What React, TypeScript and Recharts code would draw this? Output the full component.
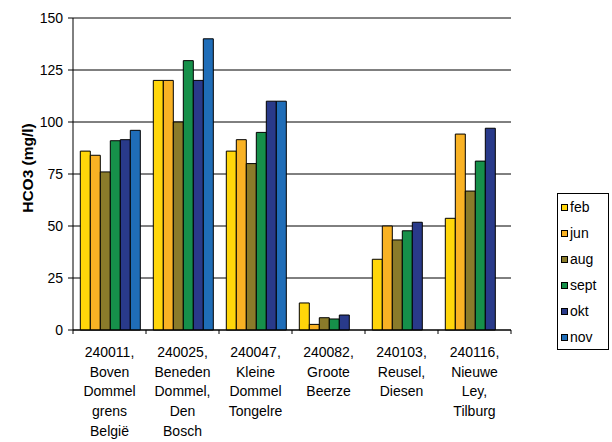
import React from 'react';
import { BarChart, Bar, XAxis, YAxis, CartesianGrid, ReferenceLine } from 'recharts';

const STATIONS = [
    '240011,\nBoven\nDommel\ngrens\nBelgië',
    '240025,\nBeneden\nDommel,\nDen\nBosch',
    '240047,\nKleine\nDommel\nTongelre',
    '240082,\nGroote\nBeerze',
    '240103,\nReusel,\nDiesen',
    '240116,\nNieuwe\nLey,\nTilburg',
];

const FEB = [86, 120, 86, 13, 34, 53.7];
const JUN = [84, 120, 91.5, 2.7, 50, 94.2];
const AUG = [76, 100, 80, 5.9, 43.3, 66.8];
const SEPT = [91, 129.5, 95, 5.3, 47.7, 81.2];
const OKT = [91.5, 120, 110, 7.2, 51.8, 97];
const NOV = [96, 140, 110, null, null, null];

const Y_TICKS = [0, 25, 50, 75, 100, 125, 150];

const SERIES = [
    { key: 'feb', values: FEB, color: '#FFD60A' },
    { key: 'jun', values: JUN, color: '#F9B224' },
    { key: 'aug', values: AUG, color: '#8A7B2A' },
    { key: 'sept', values: SEPT, color: '#16904A' },
    { key: 'okt', values: OKT, color: '#293A8A' },
    { key: 'nov', values: NOV, color: '#1F6DB8' },
];

const data = STATIONS.map((name, i) => {
    const row: any = { name };
    SERIES.forEach((s) => { row[s.key] = s.values[i]; });
    return row;
});

const W = 612;
const H = 442;
const PLOT_LEFT = 73;
const PLOT_RIGHT = 511;
const PLOT_TOP = 18;
const PLOT_BOTTOM = 330;
const BAND = (PLOT_RIGHT - PLOT_LEFT) / STATIONS.length;
const FONT = 'Arial, "Liberation Sans", sans-serif';

// category label with the tick marks at the band edges
const StationTick = (props: any) => {
    const { x, payload, index } = props;
    const lines = String(payload.value).split('\n');
    const axisY = PLOT_BOTTOM;
    return (
        <g>
            <line x1={x - BAND / 2} x2={x - BAND / 2} y1={axisY} y2={axisY + 4} stroke="#000" />
            {index === STATIONS.length - 1 && (
                <line x1={x + BAND / 2} x2={x + BAND / 2} y1={axisY} y2={axisY + 4} stroke="#000" />
            )}
            <text x={x} y={axisY + 27} textAnchor="middle" fontFamily={FONT} fontSize={14} fill="#000">
                {lines.map((l, i) => (
                    <tspan key={i} x={x} dy={i === 0 ? 0 : 19.7}>{l}</tspan>
                ))}
            </text>
        </g>
    );
};

const LegendBox = () => (
    <div style={{ position: 'absolute', left: 557, top: 193, width: 52, height: 157, border: '1px solid #000', background: '#fff', boxSizing: 'border-box' }}>
        {SERIES.map((s, i) => (
            <div key={s.key} style={{ position: 'absolute', left: 3, top: 5 + i * 26, display: 'flex', alignItems: 'center', fontFamily: FONT, fontSize: 14, color: '#000', lineHeight: '16px' }}>
                <span style={{ display: 'inline-block', width: 5, height: 5, background: s.color, border: '1px solid #000', marginRight: 2 }} />
                {s.key}
            </div>
        ))}
    </div>
);

export default function App() {
    return (
        <div style={{ position: 'absolute', left: 0, top: 0, width: W, height: H, background: '#fff' }}>
            <BarChart
                width={W}
                height={H}
                data={data}
                margin={{ top: PLOT_TOP, right: W - PLOT_RIGHT, left: 0, bottom: 0 }}
                barCategoryGap="10%"
                barGap={0}
            >
                <CartesianGrid horizontal vertical={false} stroke="#000" strokeWidth={1} />
                <ReferenceLine y={150} stroke="#888" />
                <XAxis
                    dataKey="name"
                    height={H - PLOT_BOTTOM}
                    interval={0}
                    tickLine={false}
                    axisLine={{ stroke: '#000' }}
                    tick={<StationTick />}
                />
                <YAxis
                    width={PLOT_LEFT}
                    domain={[0, 150]}
                    ticks={Y_TICKS}
                    interval={0}
                    tickSize={5}
                    tickMargin={5}
                    axisLine={{ stroke: '#000' }}
                    tickLine={{ stroke: '#000' }}
                    tick={{ fill: '#000', fontSize: 14, fontFamily: FONT }}
                    label={{
                        content: () => (
                            <text
                                x={27}
                                y={168}
                                transform="rotate(-90 27 168)"
                                textAnchor="middle"
                                dominantBaseline="central"
                                fontFamily={FONT}
                                fontSize={15.5}
                                fontWeight="bold"
                                fill="#000"
                            >
                                HCO3 (mg/l)
                            </text>
                        ),
                    }}
                />
                <YAxis yAxisId="frame" orientation="right" width={0} domain={[0, 150]} tick={false} tickLine={false} axisLine={{ stroke: '#888' }} />
                {SERIES.map((s) => (
                    <Bar key={s.key} dataKey={s.key} fill={s.color} stroke="#000" strokeWidth={1} isAnimationActive={false} />
                ))}
            </BarChart>
            <LegendBox />
        </div>
    );
}
